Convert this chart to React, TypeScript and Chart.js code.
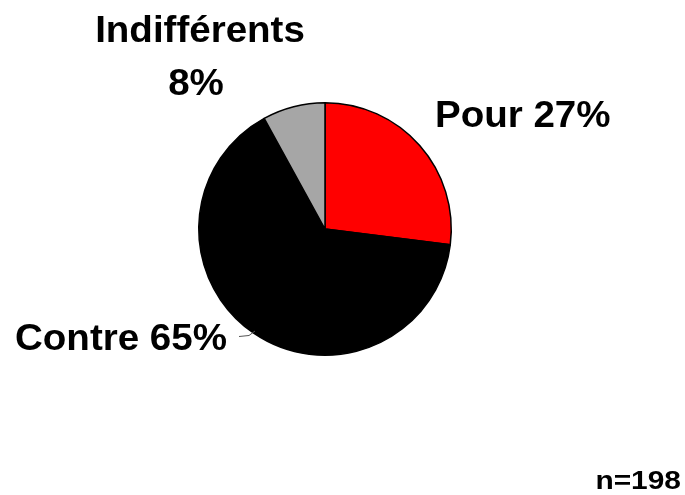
import React, { useEffect, useRef } from "react";
import { Chart, registerables } from "chart.js";

Chart.register(...registerables);

const categories = ["Pour", "Contre", "Indifférents"];
const values = [27, 65, 8];
const colors = ["#FF0000", "#000000", "#A6A6A6"];
const sampleNote = "n=198";

const labelPlugin = {
  id: "customLabels",
  afterDraw(chart: any) {
    const ctx = chart.ctx;
    ctx.save();
    ctx.fillStyle = "#000";
    ctx.textBaseline = "alphabetic";
    const draw = (text: string, x: number, y: number, size: number, sx: number, align: string) => {
      ctx.save();
      ctx.font = `bold ${size}px "Liberation Sans", Arial, sans-serif`;
      const w = ctx.measureText(text).width * sx;
      let left = x;
      if (align === "center") left = x - w / 2;
      if (align === "right") left = x - w;
      ctx.translate(left, y);
      ctx.scale(sx, 1);
      ctx.textAlign = "left";
      ctx.fillText(text, 0, 0);
      ctx.restore();
    };
    // Pour
    draw(`${categories[0]} ${values[0]}%`, 435, 127, 36, 1.07, "left");
    // Indifférents
    draw(categories[2], 200, 42, 36, 1.07, "center");
    draw(`${values[2]}%`, 196, 95, 36, 1.07, "center");
    // Contre
    draw(`${categories[1]} ${values[1]}%`, 15, 350, 36, 1.07, "left");
    // leader line
    ctx.strokeStyle = "#555";
    ctx.lineWidth = 1;
    ctx.beginPath();
    ctx.moveTo(239, 336.5);
    ctx.lineTo(249, 335.5);
    ctx.lineTo(255, 331);
    ctx.stroke();
    // n=198
    draw(sampleNote, 681, 489, 26, 1.15, "right");
    ctx.restore();
  },
};

export default function App() {
  const ref = useRef<HTMLCanvasElement>(null);
  useEffect(() => {
    if (!ref.current) return;
    const chart = new Chart(ref.current, {
      type: "pie",
      data: {
        labels: categories,
        datasets: [
          {
            data: values,
            backgroundColor: colors,
            borderColor: "#000",
            borderWidth: 1.5,
          },
        ],
      },
      options: {
        responsive: false,
        animation: false,
        rotation: 0,
        layout: { padding: { left: 198, right: 233, top: 102, bottom: 139 } },
        plugins: {
          legend: { display: false },
          tooltip: { enabled: false },
        },
      },
      plugins: [labelPlugin],
    });
    return () => chart.destroy();
  }, []);
  return (
    <div style={{ position: "fixed", left: 0, top: 0, width: 685, height: 495, background: "#fff" }}>
      <canvas ref={ref} width={685} height={495} style={{ width: 685, height: 495 }} />
    </div>
  );
}
